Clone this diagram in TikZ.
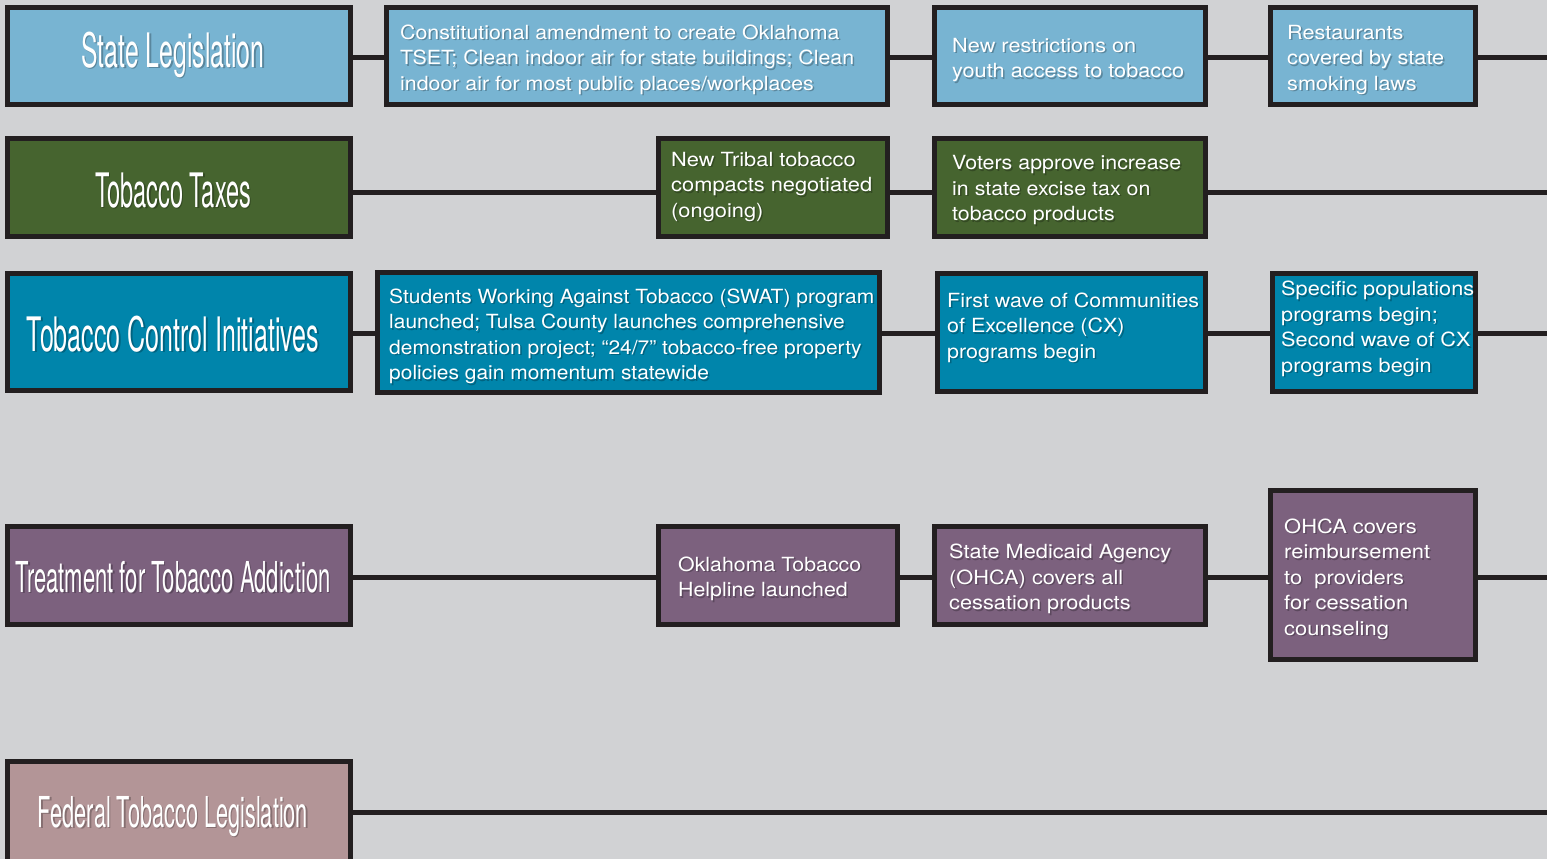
\documentclass[tikz,border=0pt]{standalone}
\usepackage{fontspec}
\setmainfont{TeX Gyre Heros}
\usepackage{graphicx}
\definecolor{bg}{HTML}{D1D2D4}
\definecolor{edge}{HTML}{231F20}
\definecolor{slblue}{HTML}{78B4D2}
\definecolor{ttgreen}{HTML}{46642F}
\definecolor{tcteal}{HTML}{0085AB}
\definecolor{tapurple}{HTML}{7C617E}
\definecolor{fdrose}{HTML}{B39597}
\newcommand\hdrbig[2]{\resizebox{#1pt}{\height}{\fontsize{47.5}{50}\selectfont #2}}
\newcommand\hdrsmall[2]{\resizebox{#1pt}{\height}{\fontsize{42.6}{45}\selectfont #2}}
\newcommand\bodytx[2]{\resizebox{#1pt}{\height}{\fontsize{19.5}{25.5}\selectfont\begin{tabular}{@{}l@{}}#2\end{tabular}}}
% box from outer coordinates: name, colour, x1, y1, x2, y2
\newcommand\mkbox[6]{\node[tlbox, fill=#2, minimum width={(#5-#3-5)*1pt}, minimum height={(#6-#4-5)*1pt}] (#1) at ({(#3+#5)/2},{(#4+#6)/2}) {};}
% shadowed text: name, anchor, x, y, content
\newcommand\shtx[5]{\node[txtshadow, anchor=#2] (#1s) at ({#3+1.5},{#4+1.5}) {#5};
  \node[txt, anchor=#2] (#1) at (#3,#4) {#5};}
\tikzset{
  tlbox/.style={draw=edge, line width=5pt, inner sep=0pt, rectangle},
  conn/.style={draw=edge, line width=5pt},
  txt/.style={text=white, inner sep=0pt},
  txtshadow/.style={text=black, opacity=0.25, inner sep=0pt},
}
\begin{document}
\begin{tikzpicture}[x=1pt,y=-1pt]
\useasboundingbox (0,0) rectangle (1547,859);
\fill[bg] (0,0) rectangle (1547,859);
% row levels / ends of the timeline
\coordinate (e1) at (1547,58);
\coordinate (e2) at (1547,192);
\coordinate (e3) at (1547,333);
\coordinate (e4) at (1547,577);
\coordinate (e5) at (1547,812);
% row 1
\mkbox{h1}{slblue}{5}{5}{353}{107}
\mkbox{b11}{slblue}{384}{5}{890}{107}
\mkbox{b12}{slblue}{932}{5}{1208}{107}
\mkbox{b13}{slblue}{1268}{5}{1478}{107}
% row 2
\mkbox{h2}{ttgreen}{5}{136}{353}{239}
\mkbox{b21}{ttgreen}{656}{136}{890}{239}
\mkbox{b22}{ttgreen}{932}{136}{1208}{239}
% row 3
\mkbox{h3}{tcteal}{5}{271}{353}{393}
\mkbox{b31}{tcteal}{375}{270}{882}{395}
\mkbox{b32}{tcteal}{935}{271}{1208}{394}
\mkbox{b33}{tcteal}{1270}{271}{1478}{394}
% row 4
\mkbox{h4}{tapurple}{5}{524}{353}{627}
\mkbox{b41}{tapurple}{656}{524}{900}{627}
\mkbox{b42}{tapurple}{932}{524}{1208}{627}
\mkbox{b43}{tapurple}{1268}{488}{1478}{662}
% row 5
\mkbox{h5}{fdrose}{5}{759}{353}{866}
% connectors
\draw[conn] (h1.east |- e1) -- (b11.west |- e1);
\draw[conn] (b11.east |- e1) -- (b12.west |- e1);
\draw[conn] (b12.east |- e1) -- (b13.west |- e1);
\draw[conn] (b13.east |- e1) -- (e1);
\draw[conn] (h2.east |- e2) -- (b21.west |- e2);
\draw[conn] (b21.east |- e2) -- (b22.west |- e2);
\draw[conn] (b22.east |- e2) -- (e2);
\draw[conn] (h3.east |- e3) -- (b31.west |- e3);
\draw[conn] (b31.east |- e3) -- (b32.west |- e3);
\draw[conn] (b32.east |- e3) -- (b33.west |- e3);
\draw[conn] (b33.east |- e3) -- (e3);
\draw[conn] (h4.east |- e4) -- (b41.west |- e4);
\draw[conn] (b41.east |- e4) -- (b42.west |- e4);
\draw[conn] (b42.east |- e4) -- (b43.west |- e4);
\draw[conn] (b43.east |- e4) -- (e4);
\draw[conn] (h5.east |- e5) -- (e5);
% headers
\shtx{t1}{base}{173}{67}{\hdrbig{183}{State Legislation}}
\shtx{t2}{base}{173}{207}{\hdrbig{156}{Tobacco Taxes}}
\shtx{t3}{base}{173}{351}{\hdrbig{292}{Tobacco Control Initiatives}}
\shtx{t4}{base}{173}{592}{\hdrsmall{315}{Treatment for Tobacco Addiction}}
\shtx{t5}{base}{173}{827}{\hdrsmall{270}{Federal Tobacco Legislation}}
% row 1 texts
\shtx{x11}{west}{400}{59.5}{\bodytx{454}{Constitutional amendment to create Oklahoma\\TSET; Clean indoor air for state buildings; Clean\\indoor air for most public places/workplaces}}
\shtx{x12}{west}{952}{60}{\bodytx{232}{New restrictions on\\youth access to tobacco}}
\shtx{x13}{west}{1287}{59.5}{\bodytx{157}{Restaurants\\covered by state\\smoking laws}}
% row 2 texts
\shtx{x21}{west}{671}{186.5}{\bodytx{201}{New Tribal tobacco\\compacts negotiated\\(ongoing)}}
\shtx{x22}{west}{952}{190}{\bodytx{229}{Voters approve increase\\in state excise tax on\\tobacco products}}
% row 3 texts
\shtx{x31}{west}{389}{336.5}{\bodytx{485}{Students Working Against Tobacco (SWAT) program\\launched; Tulsa County launches comprehensive\\demonstration project; “24/7” tobacco-free property\\policies gain momentum statewide}}
\shtx{x32}{west}{947}{327.5}{\bodytx{252}{First wave of Communities\\of Excellence (CX)\\programs begin}}
\shtx{x33}{west}{1281}{329}{\bodytx{193}{Specific populations\\programs begin;\\Second wave of CX\\programs begin}}
% row 4 texts
\shtx{x41}{west}{678}{579}{\bodytx{183}{Oklahoma Tobacco\\Helpline launched}}
\shtx{x42}{west}{949}{579}{\bodytx{222}{State Medicaid Agency\\(OHCA) covers all\\cessation products}}
\shtx{x43}{west}{1284}{579}{\bodytx{146}{OHCA covers\\reimbursement\\to~ providers\\for cessation\\counseling}}
\end{tikzpicture}
\end{document}
